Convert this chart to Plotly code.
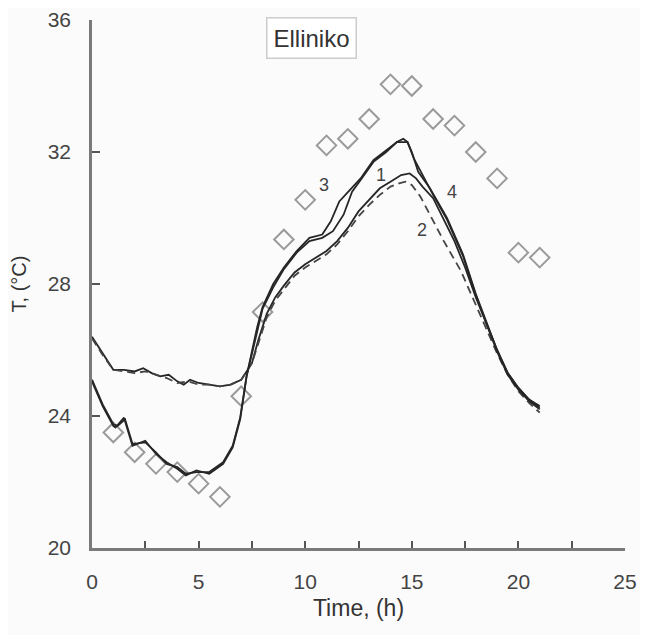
import plotly.graph_objects as go

# Measured temperatures (diamonds)
obs_t = [1, 2, 3, 4, 5, 6, 7, 8, 9, 10, 11, 12, 13, 14, 15, 16, 17, 18, 19, 20, 21]
obs_T = [23.5, 22.9, 22.55, 22.3, 21.95, 21.55, 24.6, 27.15, 29.35, 30.55, 32.2, 32.4,
         33.0, 34.05, 34.0, 33.0, 32.8, 32.0, 31.2, 28.95, 28.8]

# Curve 1 (solid)
c1_t = [0, 0.5, 1.0, 1.5, 2.0, 2.4, 2.8, 3.2, 3.6, 4.0, 4.3, 4.6, 5.0, 5.5, 6.0, 6.5, 7.0,
        7.5, 7.8, 8.2, 8.6, 9.0, 9.5, 10.0, 10.5, 11.0, 11.5, 12.0, 12.5, 13.0, 13.5, 14.0,
        14.5, 14.9, 15.2, 15.5, 16.0, 16.5, 17.0, 17.5, 18.0, 18.5, 19.0, 19.5, 20.0, 20.5, 21.0]
c1_T = [26.4, 25.9, 25.4, 25.4, 25.35, 25.45, 25.3, 25.2, 25.25, 25.05, 24.95, 25.1, 25.0,
        24.95, 24.9, 24.95, 25.1, 25.6, 26.3, 27.1, 27.6, 27.95, 28.35, 28.6, 28.8, 29.0,
        29.3, 29.7, 30.2, 30.55, 30.9, 31.1, 31.3, 31.35, 31.2, 30.95, 30.6, 29.95, 29.3,
        28.5, 27.6, 26.8, 26.0, 25.3, 24.85, 24.5, 24.25]

# Curve 2 (dashed)
c2_t = [0, 0.5, 1.0, 1.5, 2.0, 2.5, 3.0, 3.5, 4.0, 4.5, 5.0, 5.5, 6.0, 6.5, 7.0, 7.5, 7.8,
        8.2, 8.6, 9.0, 9.5, 10.0, 10.5, 11.0, 11.5, 12.0, 12.5, 13.0, 13.5, 14.0, 14.4, 14.7,
        15.0, 15.4, 15.85, 16.5, 17.3, 18.05, 18.5, 19.0, 19.5, 20.0, 20.5, 21.0]
c2_T = [26.35, 25.85, 25.4, 25.35, 25.3, 25.35, 25.25, 25.15, 25.0, 25.05, 24.95, 24.95,
        24.9, 24.95, 25.1, 25.6, 26.2, 27.0, 27.5, 27.85, 28.25, 28.5, 28.7, 28.9, 29.2,
        29.6, 30.05, 30.4, 30.7, 30.95, 31.05, 31.1, 31.0, 30.65, 30.1, 29.3, 28.4, 27.3,
        26.6, 25.9, 25.25, 24.75, 24.4, 24.1]

# Curve 3 (solid)
c3_t = [0, 0.5, 1.0, 1.1, 1.5, 1.9, 2.5, 3.0, 3.5, 4.0, 4.4, 4.9, 5.5, 6.15, 6.6, 6.95,
        7.25, 7.55, 7.75, 8.0, 8.5, 9.0, 9.6, 10.2, 10.8, 11.2, 11.6, 12.1, 12.6, 13.2, 13.8,
        14.3, 14.8, 15.0, 15.3, 15.85, 16.65, 17.4, 18.0, 18.5, 19.0, 19.5, 20.0, 20.5, 21.0]
c3_T = [25.05, 24.3, 23.7, 23.65, 23.95, 23.1, 23.25, 22.85, 22.6, 22.4, 22.2, 22.35, 22.25,
        22.55, 23.05, 23.9, 25.2, 26.1, 26.7, 27.3, 28.0, 28.5, 29.0, 29.4, 29.5, 29.9, 30.5,
        30.85, 31.2, 31.75, 32.05, 32.3, 32.3, 32.0, 31.4, 30.9, 30.0, 28.9, 27.7, 26.85,
        26.0, 25.3, 24.85, 24.5, 24.3]

# Curve 4 (solid)
c4_t = [0, 0.5, 1.0, 1.2, 1.55, 1.9, 2.5, 3.0, 3.5, 4.0, 4.4, 4.9, 5.5, 6.15, 6.6, 6.95,
        7.25, 7.55, 7.75, 8.0, 8.5, 9.0, 9.6, 10.2, 10.8, 11.3, 11.8, 12.2, 12.6, 13.2, 13.8,
        14.3, 14.6, 14.8, 15.1, 15.5, 16.0, 16.65, 17.4, 18.0, 18.5, 19.0, 19.5, 20.0, 20.5, 21.0]
c4_T = [25.1, 24.35, 23.75, 23.7, 23.9, 23.15, 23.2, 22.9, 22.55, 22.45, 22.25, 22.3, 22.3,
        22.6, 23.1, 23.95, 25.2, 26.05, 26.6, 27.25, 27.9, 28.45, 28.95, 29.3, 29.4, 29.6,
        30.1, 30.8, 31.15, 31.7, 32.0, 32.3, 32.4, 32.3, 31.8, 31.3, 30.7, 29.95, 28.85,
        27.65, 26.8, 25.95, 25.25, 24.8, 24.45, 24.2]

# Curve labels
lab_text = ["1", "2", "3", "4"]
lab_t = [13.55, 15.5, 10.9, 16.9]
lab_T = [31.3, 29.65, 31.0, 30.8]

x_ticks = [0, 5, 10, 15, 20, 25]
y_ticks = [20, 24, 28, 32, 36]

LINE = "#262626"
FONT = "Liberation Sans, Arial, sans-serif"

fig = go.Figure()
fig.add_trace(go.Scatter(x=obs_t, y=obs_T, mode="markers",
                         marker=dict(symbol="diamond-open", size=15,
                                     color="#9a9a9a", line=dict(width=2, color="#9a9a9a")),
                         showlegend=False))
fig.add_trace(go.Scatter(x=c1_t, y=c1_T, mode="lines",
                         line=dict(color=LINE, width=1.8), showlegend=False))
fig.add_trace(go.Scatter(x=c2_t, y=c2_T, mode="lines",
                         line=dict(color="#444444", width=1.8, dash="8px,5px"), showlegend=False))
fig.add_trace(go.Scatter(x=c3_t, y=c3_T, mode="lines",
                         line=dict(color=LINE, width=1.8), showlegend=False))
fig.add_trace(go.Scatter(x=c4_t, y=c4_T, mode="lines",
                         line=dict(color=LINE, width=1.8), showlegend=False))

for t, xx, yy in zip(lab_text, lab_t, lab_T):
    fig.add_annotation(x=xx, y=yy, text=t, showarrow=False,
                       font=dict(family=FONT, size=18, color="#444444"))

fig.add_annotation(x=10.3, y=35.45, text="Elliniko", showarrow=False,
                   font=dict(family=FONT, size=24, color="#333333"),
                   bordercolor="#cccccc", borderwidth=1.5, borderpad=6, bgcolor="#ffffff")

fig.update_layout(
    width=640, height=627,
    margin=dict(l=84, r=23, t=12, b=87, autoexpand=False),
    paper_bgcolor="#fbfbfb", plot_bgcolor="#fbfbfb",
    font=dict(family=FONT, color="#444444"),
    xaxis=dict(range=[0, 25], tickvals=x_ticks, showgrid=False, zeroline=False,
               automargin=False,
               showline=True, linecolor="#7a7a7a", linewidth=2.5,
               ticks="inside", ticklen=7, tickwidth=1.5, tickcolor="#555555",
               minor=dict(dtick=2.5, ticks="inside", ticklen=7, tickwidth=1.5, tickcolor="#555555", showgrid=False),
               tickfont=dict(size=21, color="#444444"), ticklabelstandoff=13,
               title=dict(text="Time, (h)", font=dict(size=23, color="#333333"), standoff=8)),
    yaxis=dict(range=[20, 36], tickvals=y_ticks, showgrid=False, zeroline=False,
               automargin=False,
               showline=True, linecolor="#7a7a7a", linewidth=2.5,
               ticks="inside", ticklen=8, tickwidth=1.5, tickcolor="#555555",
               tickfont=dict(size=21, color="#444444"), ticklabelstandoff=14,
               title=dict(text="T, (°C)", font=dict(size=20, color="#333333"), standoff=16)),
)

fig.write_html("out.html")
